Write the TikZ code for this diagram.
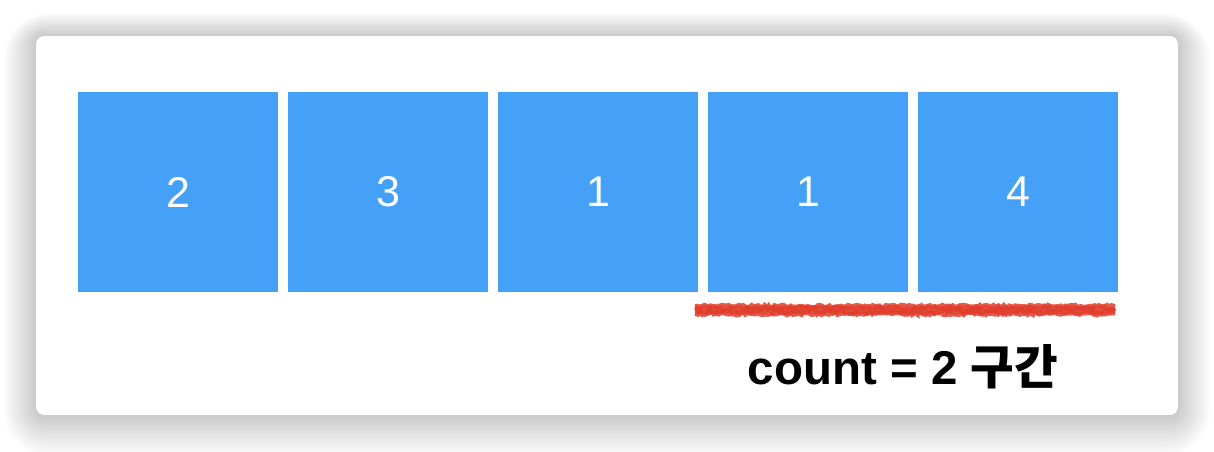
\documentclass[tikz,border=0pt]{standalone}
\usepackage{fontspec}
\setmainfont{Liberation Sans}
\newfontfamily\krfont{Noto Sans CJK KR Bold}
\usetikzlibrary{decorations.pathmorphing}

\definecolor{cellblue}{HTML}{44A1F7}
\definecolor{crayonred}{HTML}{E03C2A}

\begin{document}
\begin{tikzpicture}[x=0.02cm, y=-0.02cm]
        % Define styles
        \tikzset{
            cell/.style={rectangle, fill=cellblue, minimum size=4cm, inner sep=0pt, text=white, font=\fontsize{24.5}{28}\selectfont},
            card/.style={fill=white, rounded corners=0.16cm},
            crayon/.style={crayonred, line width=2.2pt, opacity=0.85, decorate, decoration={random steps, segment length=1.2pt, amplitude=0.7pt}}
        }
        \pgfmathsetseed{7}
        \useasboundingbox (0,0) rectangle (1214,452);

        % Shadow and card
        \foreach \s in {1,...,26}
            \fill[black, opacity=0.009, rounded corners=0.16cm+\s*0.03cm] (36-1.25*\s,36-0.9*\s) rectangle (1178+1.25*\s,415+1.6*\s);
        \node[card, draw=none, minimum width=22.84cm, minimum height=7.58cm, inner sep=0pt] (card) at (607,225.5) {};

        % Cells
        \node[cell] (cell_1) at (178,192) {2};
        \node[cell] (cell_2) at (388,192) {3};
        \node[cell] (cell_3) at (598,192) {1};
        \node[cell] (cell_4) at (808,192) {1};
        \node[cell] (cell_5) at (1018,192) {4};

        % Underline
        \coordinate (mark_start) at (695,310);
        \coordinate (mark_end) at (1115,310);
        \foreach \d in {-4,-2,0,2,4}
            \draw[crayon] ([yshift=-\d*0.02cm]mark_start) -- ([yshift=-\d*0.02cm]mark_end);

        % Label
        \node[font=\fontsize{27}{31}\selectfont\bfseries] (label) at (903,367) {count = 2 {\krfont 구간}};
    \end{tikzpicture}
\end{document}
